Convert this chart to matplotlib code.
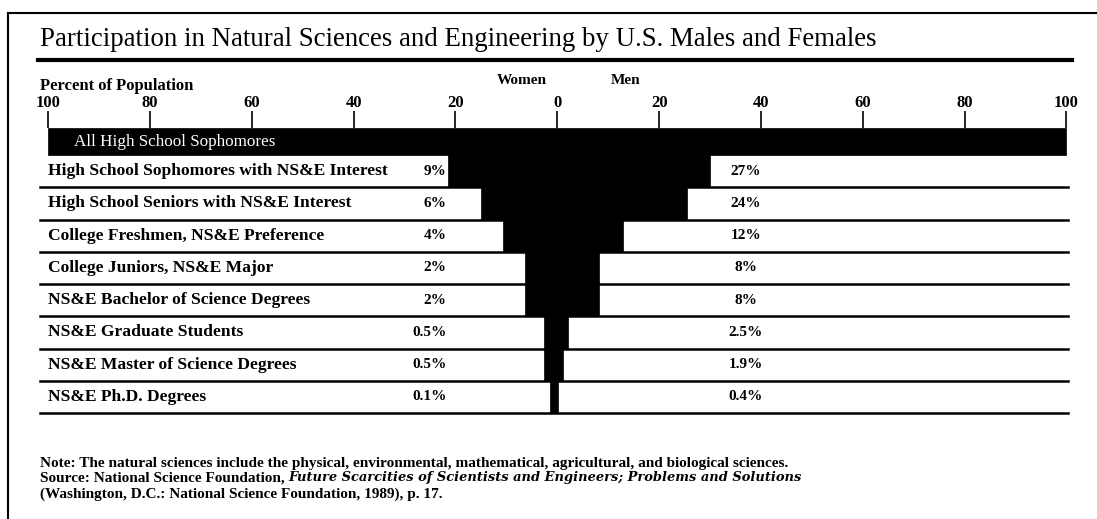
import numpy as np
import matplotlib.pyplot as plt
from matplotlib.lines import Line2D

categories = [
    "High School Sophomores with NS&E Interest",
    "High School Seniors with NS&E Interest",
    "College Freshmen, NS&E Preference",
    "College Juniors, NS&E Major",
    "NS&E Bachelor of Science Degrees",
    "NS&E Graduate Students",
    "NS&E Master of Science Degrees",
    "NS&E Ph.D. Degrees",
]
women_labels = ["9%", "6%", "4%", "2%", "2%", "0.5%", "0.5%", "0.1%"]
men_labels = ["27%", "24%", "12%", "8%", "8%", "2.5%", "1.9%", "0.4%"]
women_len = np.array([21.4, 14.9, 10.6, 6.3, 6.3, 2.6, 2.6, 1.4])
men_len = np.array([30.0, 25.5, 13.0, 8.2, 8.2, 2.2, 1.2, 0.1])
all_label = "All High School Sophomores"
all_women = 100
all_men = 100
ticks = np.arange(-100, 101, 20)

W, H = 1097, 519
plt.rcParams["font.family"] = ["Liberation Serif", "DejaVu Serif"]
fig = plt.figure(figsize=(W / 100, H / 100), dpi=100)

top_h = 0.84
ax = fig.add_axes([40 / W, 1 - 413 / H, 1032 / W, 285 / H])
ax.set_xlim(-101.6, 101.1)
ax.set_ylim(len(categories), -top_h)

# row rules
rows = np.arange(1, len(categories) + 1)
for r in rows:
    ax.plot([-101.6, 100.3], [r, r], color="black", lw=1.8, zorder=1, clip_on=False)

# top bar
ax.barh(-top_h / 2, -all_women, height=top_h, color="black", lw=0.5, edgecolor="black", zorder=2)
ax.barh(-top_h / 2, all_men, height=top_h, color="black", lw=0.5, edgecolor="black", zorder=2)
ax.text(-95, -top_h / 2, all_label, color="white", fontsize=12.3, va="center", ha="left", zorder=3)

y = rows - 0.5
ax.barh(y, -women_len, height=1.0, color="black", lw=0.5, edgecolor="black", zorder=2)
ax.barh(y, men_len, height=1.0, color="black", lw=0.5, edgecolor="black", zorder=2)

for i in range(len(categories)):
    ax.text(-100, y[i], categories[i], fontsize=12.6, fontweight="bold", va="center", ha="left")
    ax.text(-21.8, y[i], women_labels[i], fontsize=11, fontweight="bold", va="center", ha="right")
    ax.text(37, y[i], men_labels[i], fontsize=11, fontweight="bold", va="center", ha="center")

ax.xaxis.tick_top()
ax.set_xticks(ticks)
ax.set_xticklabels([str(abs(t)) for t in ticks], fontsize=12, fontweight="bold")
ax.tick_params(axis="x", length=12, width=1.2, pad=0.5, color="black")
ax.set_yticks([])
for s in ax.spines.values():
    s.set_visible(False)

ax.text(-7, -2.3, "Women", fontsize=11, fontweight="bold", ha="center", va="center")
ax.text(13.4, -2.3, "Men", fontsize=11, fontweight="bold", ha="center", va="center")
fig.text(40 / W, 1 - 86 / H, "Percent of Population", fontsize=12, fontweight="bold", va="center")

# title and rules
fig.text(40 / W, 1 - 40 / H, "Participation in Natural Sciences and Engineering by U.S. Males and Females",
         fontsize=19.4, va="center")
fig.add_artist(Line2D([38 / W, 1072 / W], [1 - 60 / H, 1 - 60 / H], color="black", lw=3))
fig.add_artist(Line2D([8 / W, 1.0], [1 - 13 / H, 1 - 13 / H], color="black", lw=1.5))
fig.add_artist(Line2D([8 / W, 8 / W], [0, 1 - 13 / H], color="black", lw=1.5))

# notes
fig.text(40 / W, 1 - 463 / H,
         "Note: The natural sciences include the physical, environmental, mathematical, agricultural, and biological sciences.",
         fontsize=11, fontweight="bold", va="center")
src = fig.text(40 / W, 1 - 478 / H, "Source: National Science Foundation, ", fontsize=11,
               fontweight="bold", va="center")
ax.annotate("Future Scarcities of Scientists and Engineers; Problems and Solutions", xy=(1, 0.5),
            xycoords=src, va="center", ha="left", fontsize=9.4, fontweight="bold", style="italic",
            family="DejaVu Serif", annotation_clip=False)
fig.text(40 / W, 1 - 494 / H, "(Washington, D.C.: National Science Foundation, 1989), p. 17.",
         fontsize=11, fontweight="bold", va="center")

fig.savefig("out.png", dpi=100, facecolor="white")
